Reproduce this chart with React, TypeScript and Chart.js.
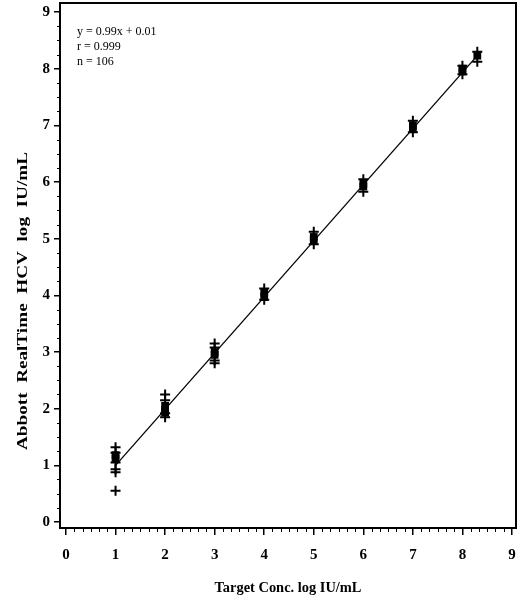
import React, { useEffect, useRef } from "react";
import { Chart, registerables } from "chart.js";

Chart.register(...registerables);

// ---- data ----
const xTickValues = [0, 1, 2, 3, 4, 5, 6, 7, 8, 9];
const yTickValues = [0, 1, 2, 3, 4, 5, 6, 7, 8, 9];

const plusX = [1, 1, 1, 1, 1, 1, 2, 2, 2, 2, 3, 3, 3, 3, 4, 4, 5, 5, 6, 6, 7, 7, 8, 8, 8.3, 8.3];
const plusY = [1.32, 1.22, 1.05, 0.93, 0.88, 0.55, 2.25, 2.15, 1.92, 1.85, 3.15, 3.08, 2.85, 2.8, 4.12, 3.92, 5.12, 4.9, 6.05, 5.83, 7.08, 6.88, 8.05, 7.9, 8.3, 8.12];

const squareX = [1, 1, 2, 2, 2, 3, 3, 4, 4, 5, 5, 6, 6, 7, 7, 8, 8, 8.3];
const squareY = [1.18, 1.12, 2.05, 1.98, 1.93, 3.0, 2.95, 4.05, 3.97, 5.03, 4.97, 5.97, 5.92, 7.0, 6.95, 8.0, 7.95, 8.23];

const fitX = [1, 8.3];
const fitY = [1.0, 8.23];

const statsLines = ["y = 0.99x + 0.01", "r = 0.999", "n = 106"];
const xTitle = "Target Conc. log IU/mL";
const yTitle = "Abbott  RealTime  HCV  log  IU/mL";

const SERIF = '"Liberation Serif", "DejaVu Serif", serif';

const decorPlugin = {
  id: "decor",
  afterDraw(chart: any) {
    const { ctx, chartArea, scales } = chart;
    const xs = scales.x;
    const ys = scales.y;
    ctx.save();
    // frame
    ctx.strokeStyle = "#000";
    ctx.lineWidth = 2;
    ctx.strokeRect(chartArea.left, chartArea.top, chartArea.right - chartArea.left, chartArea.bottom - chartArea.top);

    // minor ticks
    ctx.lineWidth = 1;
    ctx.beginPath();
    for (let i = 0; i <= 36; i++) {
      if (i % 4 === 0) continue;
      const py = Math.round(ys.getPixelForValue(i / 4)) + 0.5;
      ctx.moveTo(chartArea.left - 3, py);
      ctx.lineTo(chartArea.left, py);
    }
    for (let i = 0; i <= 54; i++) {
      if (i % 6 === 0) continue;
      const px = Math.round(xs.getPixelForValue(i / 6)) + 0.5;
      if (px > chartArea.right) continue;
      ctx.moveTo(px, chartArea.bottom);
      ctx.lineTo(px, chartArea.bottom + 4);
    }
    ctx.stroke();

    // stats text
    ctx.fillStyle = "#000";
    ctx.font = `12px ${SERIF}`;
    ctx.textAlign = "left";
    ctx.textBaseline = "middle";
    const sx = xs.getPixelForValue(0.22);
    statsLines.forEach((t, i) => {
      ctx.fillText(t, sx, ys.getPixelForValue(8.65) + i * 15);
    });

    // x title
    ctx.font = `bold 15px ${SERIF}`;
    ctx.textAlign = "center";
    ctx.textBaseline = "middle";
    const cx = (chartArea.left + chartArea.right) / 2;
    const wX = ctx.measureText(xTitle).width;
    ctx.save();
    ctx.translate(cx, 588);
    ctx.scale(147 / wX, 1);
    ctx.fillText(xTitle, 0, 0);
    ctx.restore();

    // y title
    const wY = ctx.measureText(yTitle).width;
    ctx.save();
    ctx.translate(23, 301);
    ctx.rotate(-Math.PI / 2);
    ctx.scale(298 / wY, 1);
    ctx.fillText(yTitle, 0, 0);
    ctx.restore();

    ctx.restore();
  },
};

function zeroPad(s: any) {
  s.paddingTop = 0;
  s.paddingBottom = 0;
  s.paddingLeft = 0;
  s.paddingRight = 0;
}

export default function App() {
  const ref = useRef<HTMLCanvasElement | null>(null);

  useEffect(() => {
    if (!ref.current) return;
    const tickFont = { family: SERIF, size: 15, weight: "bold" as const };
    const chart = new Chart(ref.current, {
      type: "scatter",
      data: {
        datasets: [
          {
            label: "individual",
            data: plusX.map((x, i) => ({ x, y: plusY[i] })),
            pointStyle: "cross",
            pointRadius: 5,
            borderWidth: 2,
            borderColor: "#000",
            backgroundColor: "#000",
          },
          {
            label: "mean",
            data: squareX.map((x, i) => ({ x, y: squareY[i] })),
            pointStyle: "rect",
            pointRadius: 5.5,
            borderWidth: 0,
            borderColor: "#000",
            backgroundColor: "#000",
          },
          {
            label: "fit",
            data: fitX.map((x, i) => ({ x, y: fitY[i] })),
            showLine: true,
            pointRadius: 0,
            borderColor: "#000",
            borderWidth: 1.3,
          },
        ],
      },
      options: {
        responsive: false,
        animation: false,
        layout: { autoPadding: false, padding: { top: 3, right: 3, left: 0, bottom: 0 } },
        plugins: {
          legend: { display: false },
          tooltip: { enabled: false },
        },
        scales: {
          x: {
            type: "linear",
            min: -0.121,
            max: 9.081,
            afterBuildTicks: (s: any) => {
              s.ticks = xTickValues.map((v) => ({ value: v }));
            },
            afterFit: (s: any) => {
              s.height = 74;
              zeroPad(s);
            },
            grid: {
              drawOnChartArea: false,
              drawTicks: true,
              tickLength: 7,
              color: "#000",
              lineWidth: 1.5,
            },
            border: { display: true, color: "#000", width: 2 },
            ticks: {
              font: tickFont,
              color: "#000",
              padding: 11,
              maxRotation: 0,
              autoSkip: false,
              callback: (v: any) => String(v),
            },
          },
          y: {
            type: "linear",
            min: -0.106,
            max: 9.159,
            afterBuildTicks: (s: any) => {
              s.ticks = yTickValues.map((v) => ({ value: v }));
            },
            afterFit: (s: any) => {
              s.width = 60;
              zeroPad(s);
            },
            grid: {
              drawOnChartArea: false,
              drawTicks: true,
              tickLength: 6,
              color: "#000",
              lineWidth: 1.5,
            },
            border: { display: true, color: "#000", width: 2 },
            ticks: {
              font: tickFont,
              color: "#000",
              padding: 4,
              autoSkip: false,
              callback: (v: any) => String(v),
            },
          },
        },
      },
      plugins: [decorPlugin],
    });
    return () => chart.destroy();
  }, []);

  return (
    <div style={{ position: "fixed", left: 0, top: 0, width: 519, height: 602, background: "#fff" }}>
      <canvas ref={ref} width={519} height={602} style={{ display: "block", width: 519, height: 602 }} />
    </div>
  );
}
